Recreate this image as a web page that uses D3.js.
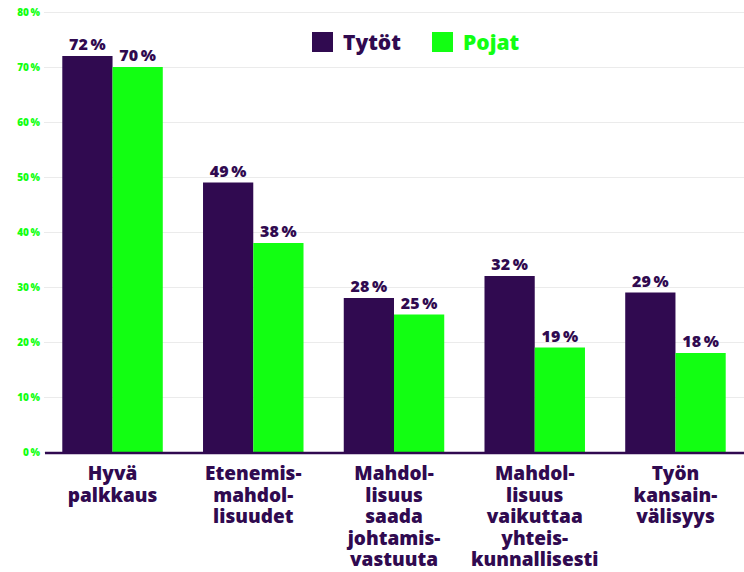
<!DOCTYPE html>
<html lang="fi">
<head>
<meta charset="UTF-8">
<title>Tytöt ja pojat</title>
<style>
  body { margin: 0; background: #fff; font-family: 'Open Sans', sans-serif; }
</style>
</head>
<body>
<div id="chart"></div>
<script src="https://cdn.jsdelivr.net/npm/d3@7/dist/d3.min.js"></script>
<script>
// data
const categories = [
  ["Hyvä", "palkkaus"],
  ["Etenemis-", "mahdol-", "lisuudet"],
  ["Mahdol-", "lisuus", "saada", "johtamis-", "vastuuta"],
  ["Mahdol-", "lisuus", "vaikuttaa", "yhteis-", "kunnallisesti"],
  ["Työn", "kansain-", "välisyys"]
];
const seriesNames = ["Tytöt", "Pojat"];
const tytot = [72, 49, 28, 32, 29];
const pojat = [70, 38, 25, 19, 18];
const yTicks = [0, 10, 20, 30, 40, 50, 60, 70, 80];

const purple = "#300a50";
const green = "#12ff12";
const colors = [purple, green];
const font = "'Open Sans', sans-serif";

const width = 744, height = 572;
const margin = { top: 12, right: 0, bottom: 120, left: 44 };

const svg = d3.select("#chart").append("svg")
  .attr("width", width)
  .attr("height", height)
  .style("font-family", font);

const x = d3.scaleBand()
  .domain(d3.range(categories.length))
  .range([margin.left, width - margin.right])
  .paddingInner(0.286)
  .paddingOuter(0.13);

const xs = d3.scaleBand()
  .domain(seriesNames)
  .range([0, x.bandwidth()]);

const y = d3.scaleLinear()
  .domain([0, 80])
  .range([height - margin.bottom, margin.top]);

// grid + y labels
const yAxis = svg.append("g")
  .attr("transform", `translate(${margin.left},0)`)
  .call(d3.axisLeft(y).tickValues(yTicks).tickSize(0).tickPadding(4)
    .tickFormat(d => d + "\u2009%"));
yAxis.select(".domain").remove();
yAxis.selectAll("text")
  .attr("fill", green)
  .style("font-size", "10px")
  .style("font-weight", 800)
  .style("font-family", font);
yAxis.selectAll(".tick").append("line")
  .attr("x1", 0)
  .attr("x2", width - margin.left)
  .attr("stroke", "#ebebeb")
  .attr("stroke-width", 1.2);

// bars
const rows = categories.map((c, i) => [tytot[i], pojat[i]]);
const groups = svg.append("g").selectAll("g")
  .data(rows)
  .join("g")
  .attr("transform", (d, i) => `translate(${x(i)},0)`);

groups.selectAll("rect")
  .data(d => d.map((v, j) => ({ key: seriesNames[j], value: v, color: colors[j] })))
  .join("rect")
  .attr("x", d => xs(d.key))
  .attr("width", xs.bandwidth())
  .attr("y", d => y(d.value))
  .attr("height", d => y(0) - y(d.value))
  .attr("fill", d => d.color);

groups.selectAll("text.val")
  .data(d => d.map((v, j) => ({ key: seriesNames[j], value: v })))
  .join("text")
  .attr("class", "val")
  .attr("x", d => xs(d.key) + xs.bandwidth() / 2)
  .attr("y", d => y(d.value) - 6)
  .attr("text-anchor", "middle")
  .attr("fill", purple)
  .style("font-size", "16px")
  .style("font-weight", 800)
  .text(d => d.value + "\u2009%");

// baseline
svg.append("line")
  .attr("x1", margin.left + 1)
  .attr("x2", width)
  .attr("y1", y(0) + 1)
  .attr("y2", y(0) + 1)
  .attr("stroke", purple)
  .attr("stroke-width", 2.5);

// category labels
const catLabels = svg.append("g").selectAll("text")
  .data(categories)
  .join("text")
  .attr("x", (d, i) => x(i) + x.bandwidth() / 2)
  .attr("y", y(0) + 28)
  .attr("text-anchor", "middle")
  .attr("fill", purple)
  .style("font-size", "19px")
  .style("font-weight", 800);
catLabels.selectAll("tspan")
  .data(d => d)
  .join("tspan")
  .attr("x", function () { return d3.select(this.parentNode).attr("x"); })
  .attr("dy", (d, i) => i === 0 ? 0 : 21.6)
  .text(d => d);

// legend
const legendX = [312, 432];
const legend = svg.append("g").selectAll("g")
  .data(seriesNames)
  .join("g")
  .attr("transform", (d, i) => `translate(${legendX[i]},32)`);
legend.append("rect")
  .attr("width", 21)
  .attr("height", 20)
  .attr("fill", (d, i) => colors[i]);
legend.append("text")
  .attr("x", 31)
  .attr("y", 18)
  .attr("fill", (d, i) => colors[i])
  .style("font-size", "21px")
  .style("font-weight", 800)
  .text(d => d);
</script>
</body>
</html>
